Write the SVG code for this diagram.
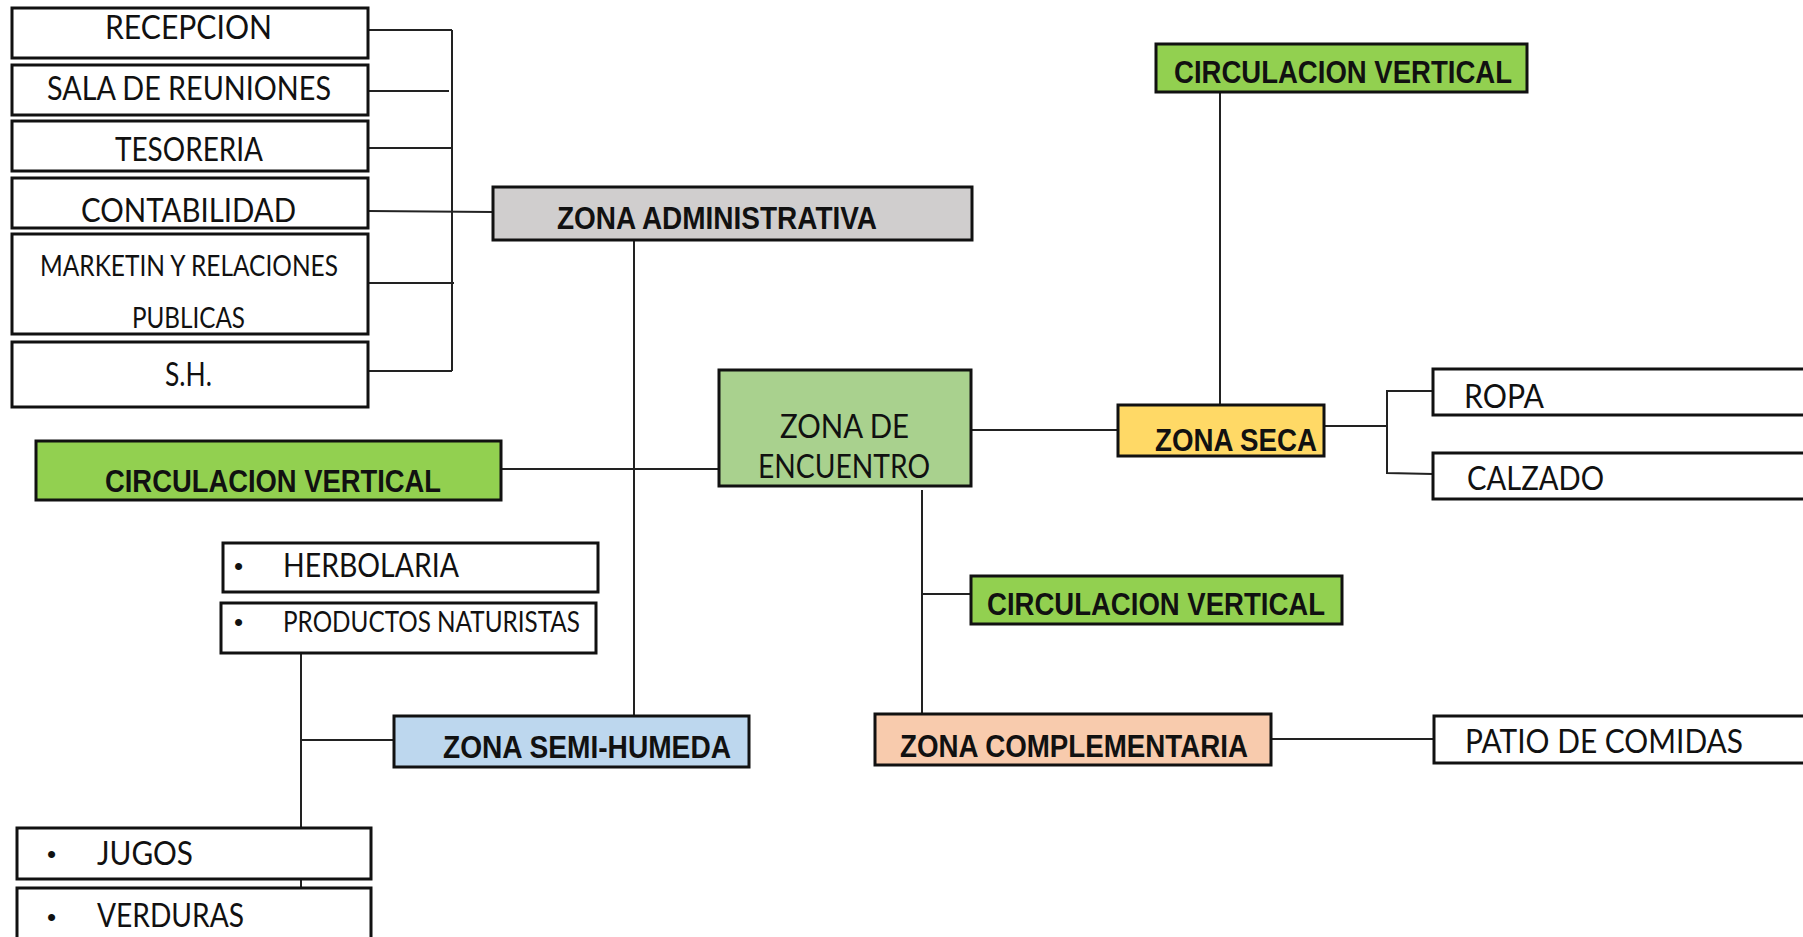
<svg xmlns="http://www.w3.org/2000/svg" width="1803" height="937" viewBox="0 0 1803 937">
  <style>
    .box { stroke: #111; stroke-width: 3; }
    .plain { fill: #ffffff; }
    .grey { fill: #d0cece; }
    .green { fill: #92d050; }
    .lgreen { fill: #a9d18e; }
    .yellow { fill: #ffd966; }
    .blue { fill: #bdd7ee; }
    .peach { fill: #f8cbad; }
    .t { font-family: "Lato", "Liberation Sans", Arial, sans-serif; font-weight: 400; fill: #111; font-size: 32px; }
    .b { font-family: "Liberation Sans", Arial, sans-serif; fill: #111; font-size: 32px; font-weight: bold; }
    .sm { font-size: 28px; }
    .bul { font-family: "Liberation Sans", Arial, sans-serif; fill: #111; font-size: 26px; }
    .ln { stroke: #222; stroke-width: 2; fill: none; }
  </style>

  <!-- connectors -->
  <g id="connectors">
    <!-- administrative bracket -->
    <line class="ln" x1="452" y1="30" x2="452" y2="371"/>
    <line class="ln" x1="368" y1="30" x2="452" y2="30"/>
    <line class="ln" x1="368" y1="91" x2="449" y2="91"/>
    <line class="ln" x1="368" y1="148" x2="452" y2="148"/>
    <line class="ln" x1="368" y1="211" x2="493" y2="212"/>
    <line class="ln" x1="368" y1="283" x2="454" y2="283"/>
    <line class="ln" x1="368" y1="371" x2="452" y2="371"/>
    <!-- admin down to semi-humeda -->
    <line class="ln" x1="634" y1="240" x2="634" y2="716"/>
    <!-- left circulation to encuentro -->
    <line class="ln" x1="501" y1="469" x2="719" y2="469"/>
    <!-- encuentro to zona seca -->
    <line class="ln" x1="971" y1="430" x2="1118" y2="430"/>
    <!-- top circulation to zona seca -->
    <line class="ln" x1="1220" y1="92" x2="1220" y2="405"/>
    <!-- zona seca branches -->
    <line class="ln" x1="1324" y1="426" x2="1387" y2="426"/>
    <polyline class="ln" points="1433,391 1387,391 1387,473 1433,474"/>
    <!-- encuentro down to complementaria -->
    <line class="ln" x1="922" y1="490" x2="922" y2="714"/>
    <line class="ln" x1="922" y1="594" x2="971" y2="594"/>
    <!-- complementaria to patio -->
    <line class="ln" x1="1271" y1="739" x2="1434" y2="739"/>
    <!-- semi-humeda branches -->
    <line class="ln" x1="301" y1="653" x2="301" y2="888"/>
    <line class="ln" x1="301" y1="740" x2="394" y2="740"/>
  </g>

  <!-- administrative rooms -->
  <g id="recepcion">
    <rect class="box plain" x="12" y="8" width="356" height="50"/>
    <text class="t" x="105" y="39" textLength="167" lengthAdjust="spacingAndGlyphs">RECEPCION</text>
  </g>
  <g id="sala-reuniones">
    <rect class="box plain" x="12" y="65" width="356" height="50"/>
    <text class="t" x="47" y="100" textLength="284" lengthAdjust="spacingAndGlyphs">SALA DE REUNIONES</text>
  </g>
  <g id="tesoreria">
    <rect class="box plain" x="12" y="121" width="356" height="50"/>
    <text class="t" x="115" y="161" textLength="148" lengthAdjust="spacingAndGlyphs">TESORERIA</text>
  </g>
  <g id="contabilidad">
    <rect class="box plain" x="12" y="178" width="356" height="50"/>
    <text class="t" x="81" y="222" textLength="215" lengthAdjust="spacingAndGlyphs">CONTABILIDAD</text>
  </g>
  <g id="marketing">
    <rect class="box plain" x="12" y="234" width="356" height="100"/>
    <text class="t sm" x="40" y="276" textLength="298" lengthAdjust="spacingAndGlyphs">MARKETIN Y RELACIONES</text>
    <text class="t sm" x="132" y="328" textLength="113" lengthAdjust="spacingAndGlyphs">PUBLICAS</text>
  </g>
  <g id="sh">
    <rect class="box plain" x="12" y="342" width="356" height="65"/>
    <text class="t" x="165" y="386" textLength="47" lengthAdjust="spacingAndGlyphs">S.H.</text>
  </g>

  <!-- zones -->
  <g id="zona-administrativa">
    <rect class="box grey" x="493" y="187" width="479" height="53"/>
    <text class="b" x="557" y="229" textLength="320" lengthAdjust="spacingAndGlyphs">ZONA ADMINISTRATIVA</text>
  </g>
  <g id="zona-encuentro">
    <rect class="box lgreen" x="719" y="370" width="252" height="116"/>
    <text class="t" x="780" y="438" textLength="129" lengthAdjust="spacingAndGlyphs">ZONA DE</text>
    <text class="t" x="758" y="478" textLength="172" lengthAdjust="spacingAndGlyphs">ENCUENTRO</text>
  </g>
  <g id="circulacion-izquierda">
    <rect class="box green" x="36" y="441" width="465" height="59"/>
    <text class="b" x="105" y="492" textLength="336" lengthAdjust="spacingAndGlyphs">CIRCULACION VERTICAL</text>
  </g>
  <g id="circulacion-superior">
    <rect class="box green" x="1156" y="44" width="371" height="48"/>
    <text class="b" x="1174" y="83" textLength="338" lengthAdjust="spacingAndGlyphs">CIRCULACION VERTICAL</text>
  </g>
  <g id="zona-seca">
    <rect class="box yellow" x="1118" y="405" width="206" height="51"/>
    <text class="b" x="1155" y="451" textLength="162" lengthAdjust="spacingAndGlyphs">ZONA SECA</text>
  </g>
  <g id="ropa">
    <rect class="box plain" x="1433" y="369" width="380" height="46"/>
    <text class="t" x="1464" y="408" textLength="80" lengthAdjust="spacingAndGlyphs">ROPA</text>
  </g>
  <g id="calzado">
    <rect class="box plain" x="1433" y="453" width="380" height="46"/>
    <text class="t" x="1467" y="490" textLength="137" lengthAdjust="spacingAndGlyphs">CALZADO</text>
  </g>
  <g id="circulacion-central">
    <rect class="box green" x="971" y="576" width="371" height="48"/>
    <text class="b" x="987" y="615" textLength="338" lengthAdjust="spacingAndGlyphs">CIRCULACION VERTICAL</text>
  </g>
  <g id="zona-complementaria">
    <rect class="box peach" x="875" y="714" width="396" height="51"/>
    <text class="b" x="900" y="757" textLength="348" lengthAdjust="spacingAndGlyphs">ZONA COMPLEMENTARIA</text>
  </g>
  <g id="patio-comidas">
    <rect class="box plain" x="1434" y="716" width="380" height="47"/>
    <text class="t" x="1465" y="753" textLength="278" lengthAdjust="spacingAndGlyphs">PATIO DE COMIDAS</text>
  </g>
  <g id="zona-semi-humeda">
    <rect class="box blue" x="394" y="716" width="355" height="51"/>
    <text class="b" x="443" y="758" textLength="288" lengthAdjust="spacingAndGlyphs">ZONA SEMI-HUMEDA</text>
  </g>
  <g id="herbolaria">
    <rect class="box plain" x="223" y="543" width="375" height="49"/>
    <text class="bul" x="234" y="575">•</text>
    <text class="t" x="283" y="577" textLength="176" lengthAdjust="spacingAndGlyphs">HERBOLARIA</text>
  </g>
  <g id="productos-naturistas">
    <rect class="box plain" x="221" y="603" width="375" height="50"/>
    <text class="bul" x="234" y="631">•</text>
    <text class="t sm" x="283" y="632" textLength="297" lengthAdjust="spacingAndGlyphs">PRODUCTOS NATURISTAS</text>
  </g>
  <g id="jugos">
    <rect class="box plain" x="17" y="828" width="354" height="51"/>
    <text class="bul" x="47" y="863">•</text>
    <text class="t" x="97" y="865" textLength="96" lengthAdjust="spacingAndGlyphs">JUGOS</text>
  </g>
  <g id="verduras">
    <rect class="box plain" x="17" y="888" width="354" height="70"/>
    <text class="bul" x="47" y="926">•</text>
    <text class="t" x="97" y="927" textLength="147" lengthAdjust="spacingAndGlyphs">VERDURAS</text>
  </g>
</svg>
